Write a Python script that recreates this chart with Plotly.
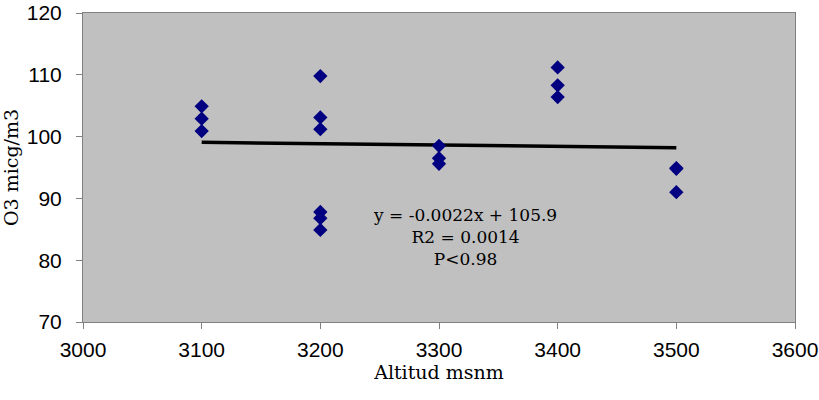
import plotly.graph_objects as go

altitud = [3100, 3100, 3100,
           3200, 3200, 3200, 3200, 3200, 3200,
           3300, 3300, 3300,
           3400, 3400, 3400,
           3500, 3500, 3500]
o3 = [104.9, 102.9, 100.9,
      109.8, 103.1, 101.2, 87.8, 86.8, 84.9,
      98.5, 96.5, 95.6,
      111.2, 108.3, 106.4,
      94.9, 94.8, 91.0]

slope = -0.0022
intercept = 105.9
fit_x = [3100, 3500]
fit_y = [slope * v + intercept for v in fit_x]

x_ticks = [3000, 3100, 3200, 3300, 3400, 3500, 3600]
y_ticks = [70, 80, 90, 100, 110, 120]

fig = go.Figure()
fig.add_trace(go.Scatter(x=fit_x, y=fit_y, mode="lines",
                         line=dict(color="black", width=3.5), hoverinfo="skip"))
fig.add_trace(go.Scatter(x=altitud, y=o3, mode="markers",
                         marker=dict(symbol="diamond", color="#000080", size=11)))

fig.add_annotation(x=3322, y=83.8, xref="x", yref="y",
                   text="y = -0.0022x + 105.9<br>R2 = 0.0014<br>P&lt;0.98",
                   showarrow=False, align="center",
                   font=dict(family="DejaVu Serif", size=17, color="black"))

fig.update_layout(
    width=819, height=400,
    margin=dict(l=83, r=24, t=13, b=78),
    paper_bgcolor="white", plot_bgcolor="#C0C0C0",
    showlegend=False,
    xaxis=dict(range=[3000, 3600], tickvals=x_ticks, showgrid=False, zeroline=False,
               showline=True, linecolor="#808080", linewidth=1, mirror=True,
               ticks="outside", ticklen=6, tickcolor="#808080",
               ticklabelstandoff=3, automargin=False, ticklabeloverflow="allow",
               tickfont=dict(family="Liberation Sans", size=21, color="black"),
               title=dict(text="Altitud msnm", standoff=4,
                          font=dict(family="DejaVu Serif", size=19, color="black"))),
    yaxis=dict(range=[70, 120], tickvals=y_ticks, showgrid=False, zeroline=False,
               showline=True, linecolor="#808080", linewidth=1, mirror=True,
               ticks="outside", ticklen=6, tickcolor="#808080",
               ticklabelstandoff=10, automargin=False, ticklabeloverflow="allow",
               tickfont=dict(family="Liberation Sans", size=21, color="black"),
               title=dict(text="O3 micg/m3", standoff=3,
                          font=dict(family="DejaVu Serif", size=19, color="black"))),
)

fig.write_html("out.html")
